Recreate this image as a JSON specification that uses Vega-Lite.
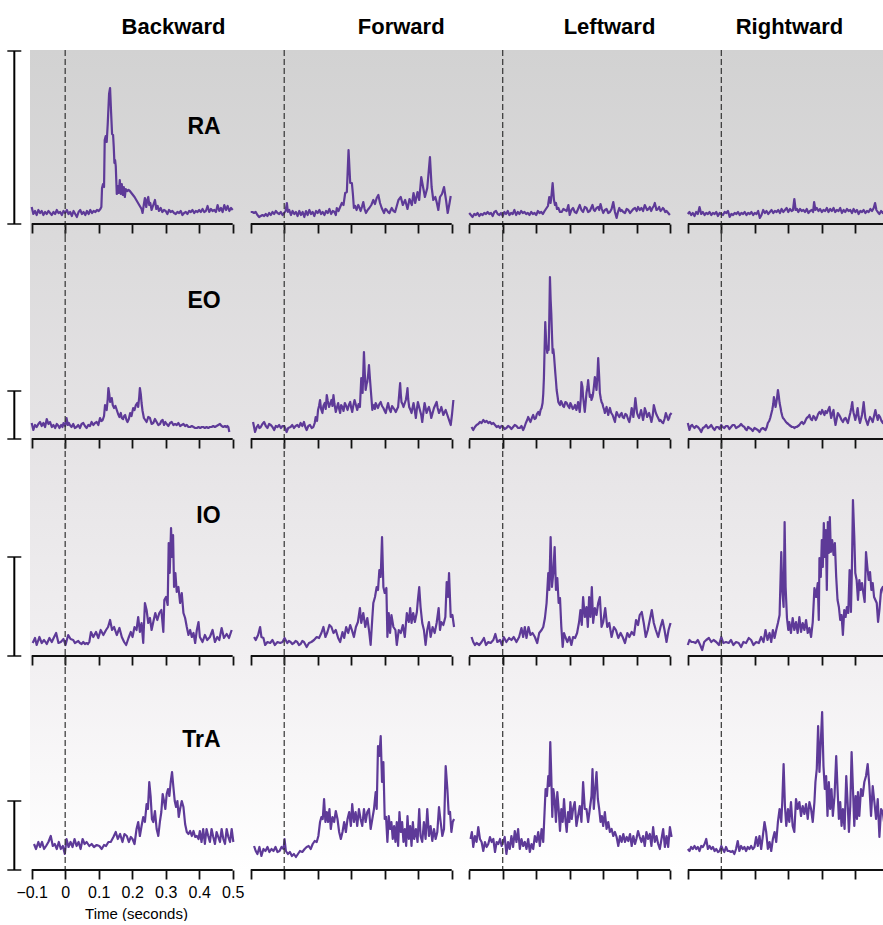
{
"$schema": "https://vega.github.io/schema/vega-lite/v6.json",
"padding": {"left": 0, "top": 16, "right": 0, "bottom": 0},
"background": "#ffffff",
"config": {
 "view": {"stroke": null},
 "font": "Liberation Sans",
 "title": {"fontSize": 22, "fontWeight": "bold", "font": "Liberation Sans", "color": "#000000", "anchor": "middle", "baseline": "alphabetic", "offset": 10},
 "axisX": {"domain": false, "grid": false, "labels": false, "ticks": true, "tickCount": 20, "tickSize": 9, "tickWidth": 1.8, "tickColor": "#111111", "offset": -12, "labelFontSize": 16, "labelColor": "#000000", "labelFont": "Liberation Sans", "labelPadding": 5, "labelOverlap": false, "titleFontSize": 15, "titleFontWeight": "normal", "titleColor": "#000000", "titleFont": "Liberation Sans", "titlePadding": 6},
 "line": {"color": "#5e3a98", "strokeWidth": 2.2, "clip": true, "strokeJoin": "round"},
 "text": {"fontSize": 23, "fontWeight": "bold", "align": "right", "baseline": "alphabetic", "color": "#000000", "font": "Liberation Sans"},
 "tick": {"thickness": 2, "size": 14, "color": "#000000"},
 "style": {"onset": {"color": "#333333", "strokeWidth": 1.2, "strokeDash": [6, 3]}, "base": {"color": "#111111", "strokeWidth": 2}, "bar": {"color": "#000000", "strokeWidth": 2}}
},
"datasets": {
"B_RA": [{"t":-100,"v":17},{"t":-95,"v":10},{"t":-90,"v":13},{"t":-85,"v":9},{"t":-80,"v":14},{"t":-75,"v":11},{"t":-70,"v":13},{"t":-65,"v":9},{"t":-60,"v":12},{"t":-55,"v":10},{"t":-50,"v":13},{"t":-45,"v":11},{"t":-40,"v":9},{"t":-35,"v":12},{"t":-30,"v":10},{"t":-25,"v":14},{"t":-20,"v":11},{"t":-15,"v":12},{"t":-10,"v":9},{"t":-5,"v":13},{"t":0,"v":11},{"t":5,"v":14},{"t":10,"v":10},{"t":15,"v":12},{"t":20,"v":8},{"t":25,"v":13},{"t":30,"v":10},{"t":35,"v":7},{"t":40,"v":12},{"t":45,"v":14},{"t":50,"v":10},{"t":55,"v":12},{"t":60,"v":9},{"t":65,"v":13},{"t":70,"v":10},{"t":75,"v":14},{"t":80,"v":11},{"t":85,"v":13},{"t":90,"v":12},{"t":95,"v":14},{"t":100,"v":13},{"t":105,"v":15},{"t":108,"v":17},{"t":110,"v":36},{"t":113,"v":40},{"t":116,"v":37},{"t":118,"v":84},{"t":121,"v":88},{"t":124,"v":82},{"t":127,"v":100},{"t":131,"v":130},{"t":134,"v":136},{"t":137,"v":112},{"t":140,"v":90},{"t":143,"v":89},{"t":145,"v":77},{"t":147,"v":61},{"t":149,"v":64},{"t":151,"v":58},{"t":154,"v":30},{"t":157,"v":38},{"t":160,"v":31},{"t":163,"v":44},{"t":166,"v":30},{"t":169,"v":40},{"t":172,"v":29},{"t":175,"v":37},{"t":178,"v":27},{"t":181,"v":35},{"t":185,"v":33},{"t":189,"v":34},{"t":193,"v":33},{"t":200,"v":30},{"t":207,"v":27},{"t":214,"v":23},{"t":221,"v":19},{"t":228,"v":15},{"t":231,"v":11},{"t":235,"v":20},{"t":238,"v":26},{"t":242,"v":17},{"t":245,"v":24},{"t":248,"v":27},{"t":251,"v":19},{"t":254,"v":21},{"t":258,"v":14},{"t":262,"v":18},{"t":268,"v":24},{"t":272,"v":15},{"t":276,"v":18},{"t":280,"v":13},{"t":285,"v":16},{"t":290,"v":12},{"t":295,"v":14},{"t":300,"v":13},{"t":305,"v":10},{"t":310,"v":14},{"t":315,"v":12},{"t":320,"v":13},{"t":325,"v":11},{"t":330,"v":10},{"t":335,"v":12},{"t":340,"v":11},{"t":345,"v":13},{"t":350,"v":9},{"t":355,"v":11},{"t":360,"v":12},{"t":365,"v":10},{"t":370,"v":13},{"t":375,"v":12},{"t":380,"v":14},{"t":385,"v":11},{"t":390,"v":13},{"t":395,"v":12},{"t":400,"v":14},{"t":405,"v":12},{"t":410,"v":15},{"t":415,"v":12},{"t":420,"v":13},{"t":425,"v":18},{"t":430,"v":12},{"t":435,"v":15},{"t":440,"v":13},{"t":445,"v":14},{"t":450,"v":12},{"t":455,"v":19},{"t":460,"v":13},{"t":465,"v":16},{"t":470,"v":12},{"t":475,"v":19},{"t":480,"v":14},{"t":485,"v":18},{"t":490,"v":13},{"t":495,"v":16},{"t":500,"v":14}],
"F_RA": [{"t":-100,"v":12},{"t":-95,"v":12},{"t":-90,"v":11},{"t":-85,"v":12},{"t":-80,"v":9},{"t":-75,"v":7},{"t":-70,"v":8},{"t":-65,"v":9},{"t":-60,"v":8},{"t":-55,"v":10},{"t":-50,"v":8},{"t":-45,"v":11},{"t":-40,"v":9},{"t":-35,"v":12},{"t":-30,"v":10},{"t":-25,"v":13},{"t":-20,"v":11},{"t":-15,"v":10},{"t":-10,"v":12},{"t":-5,"v":9},{"t":0,"v":11},{"t":4,"v":13},{"t":8,"v":21},{"t":11,"v":12},{"t":15,"v":14},{"t":20,"v":9},{"t":25,"v":13},{"t":30,"v":10},{"t":35,"v":12},{"t":40,"v":8},{"t":45,"v":13},{"t":50,"v":9},{"t":55,"v":12},{"t":60,"v":7},{"t":65,"v":13},{"t":70,"v":9},{"t":75,"v":14},{"t":80,"v":10},{"t":85,"v":12},{"t":90,"v":8},{"t":95,"v":13},{"t":100,"v":11},{"t":105,"v":14},{"t":110,"v":10},{"t":115,"v":12},{"t":120,"v":9},{"t":125,"v":13},{"t":130,"v":11},{"t":135,"v":15},{"t":140,"v":10},{"t":145,"v":13},{"t":150,"v":12},{"t":154,"v":9},{"t":157,"v":16},{"t":162,"v":13},{"t":167,"v":17},{"t":172,"v":21},{"t":177,"v":19},{"t":182,"v":31},{"t":187,"v":32},{"t":192,"v":74},{"t":197,"v":41},{"t":202,"v":41},{"t":205,"v":30},{"t":208,"v":16},{"t":212,"v":18},{"t":216,"v":14},{"t":221,"v":19},{"t":225,"v":16},{"t":228,"v":13},{"t":232,"v":17},{"t":236,"v":22},{"t":240,"v":15},{"t":244,"v":11},{"t":249,"v":14},{"t":254,"v":16},{"t":260,"v":19},{"t":266,"v":24},{"t":271,"v":20},{"t":276,"v":26},{"t":281,"v":29},{"t":286,"v":21},{"t":291,"v":16},{"t":298,"v":11},{"t":302,"v":15},{"t":306,"v":14},{"t":310,"v":12},{"t":314,"v":11},{"t":318,"v":14},{"t":321,"v":16},{"t":326,"v":13},{"t":331,"v":12},{"t":336,"v":18},{"t":341,"v":24},{"t":348,"v":27},{"t":354,"v":19},{"t":361,"v":24},{"t":368,"v":15},{"t":374,"v":25},{"t":381,"v":19},{"t":386,"v":31},{"t":391,"v":21},{"t":398,"v":32},{"t":403,"v":24},{"t":409,"v":47},{"t":415,"v":36},{"t":420,"v":27},{"t":427,"v":36},{"t":435,"v":67},{"t":440,"v":37},{"t":445,"v":24},{"t":451,"v":27},{"t":455,"v":22},{"t":460,"v":14},{"t":465,"v":27},{"t":471,"v":30},{"t":477,"v":37},{"t":483,"v":24},{"t":488,"v":11},{"t":493,"v":20},{"t":497,"v":28}],
"L_RA": [{"t":-100,"v":11},{"t":-95,"v":9},{"t":-90,"v":7},{"t":-85,"v":10},{"t":-80,"v":9},{"t":-75,"v":11},{"t":-70,"v":8},{"t":-65,"v":10},{"t":-60,"v":9},{"t":-55,"v":11},{"t":-50,"v":10},{"t":-45,"v":12},{"t":-40,"v":10},{"t":-35,"v":11},{"t":-30,"v":8},{"t":-25,"v":12},{"t":-20,"v":13},{"t":-15,"v":10},{"t":-10,"v":9},{"t":-5,"v":11},{"t":0,"v":8},{"t":5,"v":12},{"t":10,"v":10},{"t":15,"v":13},{"t":20,"v":9},{"t":25,"v":11},{"t":30,"v":10},{"t":35,"v":14},{"t":40,"v":9},{"t":45,"v":12},{"t":50,"v":10},{"t":55,"v":13},{"t":60,"v":11},{"t":65,"v":12},{"t":70,"v":10},{"t":75,"v":11},{"t":80,"v":9},{"t":85,"v":12},{"t":90,"v":10},{"t":95,"v":11},{"t":100,"v":9},{"t":105,"v":13},{"t":110,"v":11},{"t":115,"v":12},{"t":120,"v":10},{"t":125,"v":13},{"t":131,"v":16},{"t":135,"v":18},{"t":139,"v":27},{"t":143,"v":21},{"t":146,"v":30},{"t":149,"v":41},{"t":153,"v":24},{"t":156,"v":19},{"t":159,"v":21},{"t":162,"v":15},{"t":166,"v":16},{"t":171,"v":12},{"t":176,"v":12},{"t":181,"v":15},{"t":186,"v":14},{"t":191,"v":13},{"t":196,"v":19},{"t":200,"v":9},{"t":205,"v":14},{"t":210,"v":16},{"t":215,"v":12},{"t":220,"v":11},{"t":225,"v":15},{"t":230,"v":19},{"t":235,"v":14},{"t":240,"v":12},{"t":245,"v":17},{"t":250,"v":16},{"t":255,"v":12},{"t":260,"v":13},{"t":264,"v":16},{"t":268,"v":19},{"t":272,"v":14},{"t":275,"v":13},{"t":280,"v":16},{"t":285,"v":17},{"t":288,"v":14},{"t":292,"v":20},{"t":296,"v":15},{"t":300,"v":11},{"t":305,"v":14},{"t":310,"v":15},{"t":315,"v":11},{"t":320,"v":12},{"t":325,"v":15},{"t":330,"v":22},{"t":335,"v":12},{"t":340,"v":6},{"t":344,"v":12},{"t":348,"v":16},{"t":352,"v":13},{"t":355,"v":14},{"t":360,"v":12},{"t":365,"v":11},{"t":370,"v":15},{"t":375,"v":14},{"t":380,"v":11},{"t":385,"v":13},{"t":390,"v":15},{"t":395,"v":16},{"t":400,"v":13},{"t":404,"v":17},{"t":409,"v":14},{"t":414,"v":16},{"t":419,"v":13},{"t":424,"v":19},{"t":431,"v":14},{"t":435,"v":15},{"t":439,"v":17},{"t":443,"v":13},{"t":447,"v":16},{"t":451,"v":18},{"t":454,"v":21},{"t":459,"v":14},{"t":463,"v":15},{"t":467,"v":17},{"t":471,"v":13},{"t":474,"v":14},{"t":478,"v":16},{"t":481,"v":15},{"t":485,"v":12},{"t":489,"v":13},{"t":494,"v":11},{"t":499,"v":9}],
"R_RA": [{"t":-100,"v":10},{"t":-95,"v":12},{"t":-90,"v":9},{"t":-85,"v":11},{"t":-80,"v":8},{"t":-75,"v":12},{"t":-70,"v":10},{"t":-65,"v":17},{"t":-60,"v":10},{"t":-55,"v":12},{"t":-50,"v":9},{"t":-45,"v":11},{"t":-40,"v":10},{"t":-35,"v":12},{"t":-30,"v":9},{"t":-25,"v":11},{"t":-20,"v":10},{"t":-15,"v":12},{"t":-10,"v":8},{"t":-5,"v":11},{"t":0,"v":10},{"t":5,"v":9},{"t":10,"v":12},{"t":15,"v":11},{"t":20,"v":13},{"t":25,"v":7},{"t":30,"v":10},{"t":35,"v":9},{"t":40,"v":11},{"t":45,"v":10},{"t":50,"v":12},{"t":55,"v":9},{"t":60,"v":11},{"t":65,"v":10},{"t":70,"v":12},{"t":75,"v":9},{"t":80,"v":11},{"t":85,"v":10},{"t":90,"v":12},{"t":95,"v":9},{"t":100,"v":11},{"t":105,"v":10},{"t":110,"v":13},{"t":115,"v":6},{"t":120,"v":9},{"t":125,"v":14},{"t":130,"v":11},{"t":135,"v":13},{"t":140,"v":10},{"t":145,"v":12},{"t":150,"v":14},{"t":155,"v":11},{"t":160,"v":13},{"t":165,"v":12},{"t":170,"v":14},{"t":175,"v":11},{"t":180,"v":15},{"t":185,"v":12},{"t":190,"v":14},{"t":195,"v":16},{"t":200,"v":12},{"t":205,"v":15},{"t":210,"v":13},{"t":214,"v":14},{"t":218,"v":25},{"t":222,"v":14},{"t":226,"v":15},{"t":230,"v":12},{"t":235,"v":15},{"t":240,"v":13},{"t":245,"v":14},{"t":250,"v":12},{"t":255,"v":15},{"t":260,"v":11},{"t":265,"v":13},{"t":270,"v":14},{"t":274,"v":12},{"t":277,"v":22},{"t":281,"v":14},{"t":285,"v":16},{"t":290,"v":13},{"t":295,"v":15},{"t":300,"v":12},{"t":305,"v":14},{"t":310,"v":13},{"t":315,"v":16},{"t":320,"v":12},{"t":325,"v":15},{"t":330,"v":13},{"t":335,"v":16},{"t":340,"v":12},{"t":345,"v":14},{"t":350,"v":13},{"t":355,"v":16},{"t":360,"v":11},{"t":365,"v":14},{"t":370,"v":12},{"t":375,"v":15},{"t":380,"v":13},{"t":385,"v":14},{"t":390,"v":11},{"t":395,"v":15},{"t":400,"v":12},{"t":405,"v":14},{"t":410,"v":10},{"t":415,"v":13},{"t":420,"v":12},{"t":425,"v":14},{"t":430,"v":11},{"t":435,"v":13},{"t":440,"v":12},{"t":445,"v":15},{"t":450,"v":13},{"t":455,"v":16},{"t":459,"v":21},{"t":463,"v":14},{"t":467,"v":12},{"t":472,"v":10},{"t":477,"v":13},{"t":482,"v":11},{"t":487,"v":13},{"t":492,"v":10},{"t":497,"v":12},{"t":500,"v":11}],
"B_EO": [{"t":-100,"v":16},{"t":-95,"v":9},{"t":-90,"v":14},{"t":-85,"v":12},{"t":-80,"v":15},{"t":-75,"v":17},{"t":-70,"v":13},{"t":-65,"v":16},{"t":-60,"v":12},{"t":-55,"v":20},{"t":-50,"v":15},{"t":-45,"v":17},{"t":-40,"v":12},{"t":-35,"v":14},{"t":-30,"v":11},{"t":-25,"v":15},{"t":-20,"v":13},{"t":-17,"v":11},{"t":-12,"v":14},{"t":-8,"v":12},{"t":-5,"v":16},{"t":0,"v":13},{"t":4,"v":21},{"t":8,"v":14},{"t":11,"v":16},{"t":14,"v":14},{"t":19,"v":12},{"t":24,"v":15},{"t":29,"v":11},{"t":34,"v":12},{"t":39,"v":14},{"t":44,"v":11},{"t":49,"v":15},{"t":54,"v":16},{"t":59,"v":13},{"t":64,"v":11},{"t":69,"v":14},{"t":74,"v":13},{"t":79,"v":17},{"t":84,"v":14},{"t":89,"v":16},{"t":94,"v":17},{"t":99,"v":14},{"t":104,"v":21},{"t":108,"v":18},{"t":112,"v":19},{"t":116,"v":23},{"t":119,"v":34},{"t":122,"v":30},{"t":124,"v":29},{"t":127,"v":40},{"t":129,"v":51},{"t":132,"v":44},{"t":134,"v":37},{"t":137,"v":38},{"t":139,"v":41},{"t":142,"v":34},{"t":146,"v":31},{"t":150,"v":33},{"t":154,"v":29},{"t":158,"v":25},{"t":162,"v":22},{"t":166,"v":26},{"t":169,"v":21},{"t":173,"v":20},{"t":176,"v":23},{"t":179,"v":24},{"t":183,"v":19},{"t":186,"v":17},{"t":190,"v":20},{"t":194,"v":26},{"t":198,"v":23},{"t":203,"v":31},{"t":207,"v":29},{"t":211,"v":34},{"t":215,"v":36},{"t":218,"v":32},{"t":221,"v":42},{"t":223,"v":51},{"t":226,"v":44},{"t":228,"v":36},{"t":231,"v":28},{"t":235,"v":21},{"t":239,"v":19},{"t":243,"v":17},{"t":248,"v":22},{"t":253,"v":21},{"t":258,"v":15},{"t":263,"v":16},{"t":268,"v":20},{"t":273,"v":17},{"t":278,"v":14},{"t":283,"v":15},{"t":287,"v":18},{"t":291,"v":19},{"t":295,"v":14},{"t":299,"v":17},{"t":303,"v":15},{"t":308,"v":13},{"t":313,"v":16},{"t":318,"v":17},{"t":323,"v":14},{"t":328,"v":15},{"t":333,"v":14},{"t":338,"v":16},{"t":343,"v":13},{"t":348,"v":14},{"t":353,"v":15},{"t":358,"v":13},{"t":363,"v":14},{"t":368,"v":12},{"t":373,"v":12},{"t":378,"v":13},{"t":383,"v":12},{"t":388,"v":11},{"t":393,"v":11},{"t":398,"v":12},{"t":403,"v":11},{"t":408,"v":12},{"t":412,"v":12},{"t":417,"v":11},{"t":422,"v":12},{"t":427,"v":11},{"t":432,"v":12},{"t":437,"v":12},{"t":442,"v":13},{"t":447,"v":12},{"t":452,"v":13},{"t":457,"v":14},{"t":462,"v":15},{"t":467,"v":13},{"t":472,"v":12},{"t":477,"v":13},{"t":481,"v":12},{"t":484,"v":13},{"t":487,"v":12},{"t":490,"v":7}],
"F_EO": [{"t":-93,"v":17},{"t":-87,"v":7},{"t":-82,"v":12},{"t":-78,"v":14},{"t":-74,"v":11},{"t":-70,"v":12},{"t":-65,"v":15},{"t":-60,"v":17},{"t":-55,"v":13},{"t":-50,"v":11},{"t":-45,"v":15},{"t":-40,"v":14},{"t":-35,"v":12},{"t":-30,"v":9},{"t":-25,"v":13},{"t":-20,"v":12},{"t":-15,"v":14},{"t":-10,"v":11},{"t":-5,"v":13},{"t":0,"v":13},{"t":4,"v":10},{"t":7,"v":7},{"t":12,"v":11},{"t":19,"v":12},{"t":24,"v":14},{"t":29,"v":11},{"t":34,"v":13},{"t":39,"v":14},{"t":44,"v":12},{"t":49,"v":16},{"t":54,"v":13},{"t":59,"v":17},{"t":63,"v":12},{"t":67,"v":9},{"t":72,"v":13},{"t":77,"v":14},{"t":82,"v":11},{"t":87,"v":12},{"t":91,"v":16},{"t":94,"v":22},{"t":98,"v":18},{"t":101,"v":29},{"t":104,"v":33},{"t":107,"v":39},{"t":110,"v":30},{"t":114,"v":26},{"t":117,"v":33},{"t":121,"v":36},{"t":124,"v":30},{"t":127,"v":44},{"t":130,"v":38},{"t":134,"v":32},{"t":137,"v":35},{"t":141,"v":39},{"t":144,"v":33},{"t":147,"v":44},{"t":150,"v":35},{"t":154,"v":27},{"t":157,"v":31},{"t":161,"v":36},{"t":164,"v":30},{"t":167,"v":26},{"t":170,"v":34},{"t":174,"v":32},{"t":177,"v":28},{"t":181,"v":36},{"t":185,"v":33},{"t":189,"v":29},{"t":193,"v":34},{"t":197,"v":37},{"t":200,"v":31},{"t":203,"v":27},{"t":206,"v":33},{"t":210,"v":39},{"t":214,"v":34},{"t":218,"v":29},{"t":222,"v":35},{"t":226,"v":32},{"t":230,"v":61},{"t":234,"v":46},{"t":238,"v":87},{"t":241,"v":62},{"t":243,"v":49},{"t":246,"v":55},{"t":248,"v":57},{"t":251,"v":66},{"t":253,"v":74},{"t":256,"v":60},{"t":258,"v":51},{"t":261,"v":38},{"t":263,"v":29},{"t":266,"v":33},{"t":268,"v":34},{"t":271,"v":30},{"t":273,"v":36},{"t":277,"v":33},{"t":280,"v":31},{"t":284,"v":35},{"t":288,"v":37},{"t":292,"v":33},{"t":296,"v":31},{"t":300,"v":28},{"t":303,"v":26},{"t":307,"v":32},{"t":310,"v":36},{"t":314,"v":30},{"t":318,"v":27},{"t":322,"v":33},{"t":326,"v":31},{"t":330,"v":29},{"t":333,"v":27},{"t":337,"v":30},{"t":340,"v":32},{"t":343,"v":44},{"t":346,"v":56},{"t":348,"v":45},{"t":350,"v":37},{"t":353,"v":35},{"t":356,"v":32},{"t":360,"v":36},{"t":363,"v":39},{"t":366,"v":45},{"t":368,"v":51},{"t":370,"v":40},{"t":373,"v":32},{"t":377,"v":29},{"t":380,"v":26},{"t":383,"v":31},{"t":386,"v":36},{"t":390,"v":28},{"t":393,"v":21},{"t":396,"v":30},{"t":399,"v":37},{"t":402,"v":33},{"t":405,"v":29},{"t":409,"v":24},{"t":412,"v":17},{"t":416,"v":28},{"t":419,"v":36},{"t":422,"v":31},{"t":425,"v":26},{"t":429,"v":30},{"t":432,"v":32},{"t":436,"v":27},{"t":439,"v":21},{"t":443,"v":26},{"t":447,"v":31},{"t":451,"v":34},{"t":455,"v":37},{"t":458,"v":31},{"t":462,"v":26},{"t":466,"v":29},{"t":469,"v":32},{"t":472,"v":28},{"t":475,"v":24},{"t":479,"v":27},{"t":482,"v":29},{"t":486,"v":25},{"t":489,"v":22},{"t":493,"v":18},{"t":497,"v":14},{"t":501,"v":25},{"t":505,"v":39}],
"L_EO": [{"t":-93,"v":12},{"t":-88,"v":9},{"t":-83,"v":12},{"t":-78,"v":14},{"t":-73,"v":15},{"t":-68,"v":17},{"t":-63,"v":16},{"t":-58,"v":19},{"t":-53,"v":17},{"t":-48,"v":18},{"t":-43,"v":16},{"t":-38,"v":17},{"t":-33,"v":15},{"t":-28,"v":16},{"t":-23,"v":14},{"t":-18,"v":12},{"t":-13,"v":13},{"t":-8,"v":11},{"t":-4,"v":13},{"t":1,"v":12},{"t":6,"v":10},{"t":11,"v":11},{"t":16,"v":13},{"t":21,"v":12},{"t":26,"v":10},{"t":31,"v":12},{"t":36,"v":14},{"t":41,"v":13},{"t":46,"v":11},{"t":51,"v":11},{"t":56,"v":13},{"t":61,"v":9},{"t":65,"v":12},{"t":69,"v":16},{"t":73,"v":19},{"t":76,"v":22},{"t":80,"v":19},{"t":83,"v":17},{"t":87,"v":21},{"t":91,"v":24},{"t":95,"v":20},{"t":99,"v":21},{"t":102,"v":25},{"t":106,"v":27},{"t":110,"v":24},{"t":113,"v":29},{"t":116,"v":31},{"t":119,"v":36},{"t":121,"v":45},{"t":123,"v":61},{"t":125,"v":90},{"t":127,"v":117},{"t":130,"v":95},{"t":133,"v":86},{"t":135,"v":92},{"t":137,"v":89},{"t":139,"v":120},{"t":141,"v":162},{"t":143,"v":140},{"t":145,"v":126},{"t":147,"v":105},{"t":149,"v":86},{"t":151,"v":90},{"t":153,"v":84},{"t":155,"v":75},{"t":157,"v":66},{"t":159,"v":58},{"t":161,"v":49},{"t":164,"v":42},{"t":166,"v":37},{"t":169,"v":35},{"t":171,"v":34},{"t":174,"v":38},{"t":177,"v":36},{"t":180,"v":33},{"t":183,"v":32},{"t":187,"v":37},{"t":191,"v":36},{"t":195,"v":33},{"t":199,"v":31},{"t":202,"v":36},{"t":205,"v":34},{"t":209,"v":30},{"t":212,"v":31},{"t":216,"v":34},{"t":220,"v":29},{"t":223,"v":33},{"t":225,"v":37},{"t":228,"v":31},{"t":230,"v":27},{"t":233,"v":40},{"t":235,"v":57},{"t":238,"v":52},{"t":240,"v":42},{"t":243,"v":33},{"t":245,"v":27},{"t":248,"v":38},{"t":250,"v":46},{"t":253,"v":52},{"t":255,"v":59},{"t":258,"v":48},{"t":260,"v":42},{"t":263,"v":44},{"t":265,"v":39},{"t":268,"v":42},{"t":270,"v":46},{"t":273,"v":55},{"t":275,"v":62},{"t":278,"v":54},{"t":280,"v":49},{"t":283,"v":65},{"t":285,"v":81},{"t":288,"v":62},{"t":290,"v":46},{"t":293,"v":40},{"t":295,"v":37},{"t":298,"v":35},{"t":300,"v":32},{"t":303,"v":29},{"t":305,"v":26},{"t":308,"v":30},{"t":310,"v":32},{"t":313,"v":27},{"t":315,"v":24},{"t":318,"v":29},{"t":320,"v":31},{"t":324,"v":26},{"t":328,"v":24},{"t":332,"v":20},{"t":335,"v":17},{"t":338,"v":24},{"t":340,"v":27},{"t":344,"v":24},{"t":348,"v":22},{"t":352,"v":25},{"t":355,"v":26},{"t":358,"v":22},{"t":362,"v":21},{"t":366,"v":25},{"t":370,"v":24},{"t":374,"v":20},{"t":378,"v":17},{"t":382,"v":24},{"t":385,"v":31},{"t":388,"v":26},{"t":390,"v":22},{"t":393,"v":30},{"t":396,"v":41},{"t":399,"v":32},{"t":401,"v":26},{"t":404,"v":23},{"t":407,"v":21},{"t":410,"v":25},{"t":413,"v":29},{"t":416,"v":24},{"t":419,"v":19},{"t":422,"v":25},{"t":424,"v":31},{"t":428,"v":27},{"t":431,"v":22},{"t":434,"v":24},{"t":437,"v":26},{"t":441,"v":21},{"t":444,"v":17},{"t":448,"v":24},{"t":451,"v":34},{"t":454,"v":30},{"t":457,"v":26},{"t":461,"v":23},{"t":464,"v":21},{"t":468,"v":18},{"t":471,"v":19},{"t":475,"v":17},{"t":479,"v":16},{"t":483,"v":20},{"t":487,"v":26},{"t":491,"v":22},{"t":494,"v":19},{"t":497,"v":21},{"t":499,"v":24},{"t":504,"v":26}],
"R_EO": [{"t":-100,"v":16},{"t":-95,"v":9},{"t":-91,"v":13},{"t":-87,"v":14},{"t":-83,"v":12},{"t":-80,"v":11},{"t":-75,"v":13},{"t":-70,"v":12},{"t":-65,"v":10},{"t":-60,"v":7},{"t":-55,"v":11},{"t":-50,"v":12},{"t":-45,"v":14},{"t":-40,"v":11},{"t":-35,"v":12},{"t":-30,"v":14},{"t":-25,"v":11},{"t":-20,"v":9},{"t":-15,"v":12},{"t":-10,"v":12},{"t":-5,"v":10},{"t":0,"v":14},{"t":4,"v":12},{"t":9,"v":11},{"t":14,"v":13},{"t":19,"v":13},{"t":24,"v":10},{"t":29,"v":12},{"t":34,"v":14},{"t":39,"v":14},{"t":44,"v":11},{"t":49,"v":12},{"t":54,"v":13},{"t":59,"v":15},{"t":64,"v":13},{"t":69,"v":12},{"t":72,"v":10},{"t":76,"v":9},{"t":80,"v":12},{"t":84,"v":11},{"t":89,"v":10},{"t":94,"v":8},{"t":99,"v":11},{"t":104,"v":10},{"t":109,"v":9},{"t":114,"v":7},{"t":119,"v":10},{"t":124,"v":11},{"t":128,"v":10},{"t":132,"v":9},{"t":136,"v":12},{"t":139,"v":16},{"t":143,"v":18},{"t":146,"v":21},{"t":149,"v":25},{"t":152,"v":29},{"t":155,"v":35},{"t":157,"v":42},{"t":160,"v":36},{"t":162,"v":32},{"t":166,"v":40},{"t":169,"v":49},{"t":172,"v":42},{"t":174,"v":36},{"t":177,"v":31},{"t":179,"v":27},{"t":182,"v":23},{"t":184,"v":21},{"t":187,"v":20},{"t":189,"v":19},{"t":193,"v":17},{"t":196,"v":16},{"t":200,"v":15},{"t":203,"v":14},{"t":207,"v":13},{"t":211,"v":12},{"t":215,"v":12},{"t":218,"v":11},{"t":222,"v":12},{"t":225,"v":12},{"t":229,"v":13},{"t":233,"v":14},{"t":237,"v":16},{"t":241,"v":17},{"t":245,"v":15},{"t":248,"v":16},{"t":252,"v":19},{"t":255,"v":21},{"t":259,"v":22},{"t":263,"v":24},{"t":267,"v":20},{"t":271,"v":19},{"t":275,"v":23},{"t":278,"v":22},{"t":282,"v":19},{"t":285,"v":21},{"t":289,"v":25},{"t":293,"v":27},{"t":297,"v":25},{"t":301,"v":29},{"t":305,"v":26},{"t":308,"v":24},{"t":311,"v":28},{"t":315,"v":26},{"t":319,"v":29},{"t":323,"v":32},{"t":326,"v":25},{"t":328,"v":21},{"t":332,"v":26},{"t":335,"v":29},{"t":338,"v":20},{"t":341,"v":14},{"t":345,"v":21},{"t":348,"v":26},{"t":352,"v":24},{"t":355,"v":22},{"t":359,"v":19},{"t":363,"v":17},{"t":367,"v":20},{"t":371,"v":21},{"t":375,"v":18},{"t":378,"v":16},{"t":382,"v":22},{"t":385,"v":26},{"t":388,"v":31},{"t":391,"v":37},{"t":393,"v":30},{"t":395,"v":26},{"t":398,"v":22},{"t":400,"v":19},{"t":404,"v":25},{"t":407,"v":31},{"t":410,"v":22},{"t":414,"v":16},{"t":417,"v":20},{"t":420,"v":24},{"t":423,"v":31},{"t":425,"v":37},{"t":428,"v":27},{"t":430,"v":21},{"t":434,"v":17},{"t":437,"v":14},{"t":441,"v":19},{"t":444,"v":22},{"t":448,"v":20},{"t":452,"v":17},{"t":456,"v":23},{"t":460,"v":29},{"t":463,"v":24},{"t":467,"v":19},{"t":470,"v":24},{"t":474,"v":22},{"t":478,"v":18},{"t":482,"v":16},{"t":487,"v":20},{"t":492,"v":17},{"t":496,"v":21},{"t":500,"v":18}],
"B_IO": [{"t":-97,"v":13},{"t":-90,"v":18},{"t":-85,"v":11},{"t":-77,"v":19},{"t":-70,"v":13},{"t":-63,"v":16},{"t":-55,"v":12},{"t":-47,"v":18},{"t":-40,"v":14},{"t":-33,"v":19},{"t":-27,"v":23},{"t":-20,"v":13},{"t":-13,"v":14},{"t":-5,"v":17},{"t":1,"v":11},{"t":9,"v":21},{"t":16,"v":17},{"t":24,"v":16},{"t":29,"v":13},{"t":34,"v":14},{"t":39,"v":15},{"t":44,"v":13},{"t":49,"v":12},{"t":54,"v":14},{"t":59,"v":12},{"t":64,"v":13},{"t":68,"v":12},{"t":72,"v":14},{"t":77,"v":24},{"t":84,"v":19},{"t":92,"v":24},{"t":99,"v":18},{"t":106,"v":26},{"t":114,"v":21},{"t":122,"v":26},{"t":128,"v":29},{"t":134,"v":36},{"t":140,"v":26},{"t":146,"v":29},{"t":154,"v":21},{"t":162,"v":28},{"t":169,"v":19},{"t":176,"v":14},{"t":182,"v":11},{"t":189,"v":18},{"t":196,"v":24},{"t":201,"v":19},{"t":207,"v":29},{"t":213,"v":26},{"t":218,"v":39},{"t":223,"v":24},{"t":228,"v":33},{"t":233,"v":13},{"t":238,"v":53},{"t":243,"v":46},{"t":248,"v":33},{"t":253,"v":38},{"t":258,"v":26},{"t":263,"v":34},{"t":269,"v":43},{"t":275,"v":36},{"t":281,"v":43},{"t":287,"v":46},{"t":293,"v":24},{"t":296,"v":56},{"t":301,"v":59},{"t":306,"v":51},{"t":309,"v":113},{"t":312,"v":83},{"t":316,"v":128},{"t":319,"v":99},{"t":322,"v":121},{"t":325,"v":69},{"t":329,"v":83},{"t":333,"v":64},{"t":338,"v":69},{"t":343,"v":53},{"t":348,"v":63},{"t":353,"v":43},{"t":358,"v":38},{"t":363,"v":29},{"t":368,"v":21},{"t":373,"v":26},{"t":378,"v":19},{"t":383,"v":23},{"t":388,"v":13},{"t":393,"v":26},{"t":398,"v":34},{"t":402,"v":19},{"t":410,"v":14},{"t":417,"v":21},{"t":424,"v":16},{"t":432,"v":19},{"t":440,"v":26},{"t":447,"v":14},{"t":454,"v":19},{"t":460,"v":16},{"t":467,"v":28},{"t":474,"v":18},{"t":482,"v":22},{"t":489,"v":18},{"t":497,"v":26}],
"F_IO": [{"t":-90,"v":19},{"t":-85,"v":16},{"t":-78,"v":21},{"t":-72,"v":29},{"t":-68,"v":19},{"t":-62,"v":18},{"t":-57,"v":11},{"t":-50,"v":14},{"t":-42,"v":13},{"t":-35,"v":16},{"t":-28,"v":11},{"t":-20,"v":14},{"t":-12,"v":13},{"t":-5,"v":14},{"t":1,"v":18},{"t":9,"v":13},{"t":14,"v":15},{"t":19,"v":14},{"t":24,"v":12},{"t":29,"v":13},{"t":34,"v":15},{"t":39,"v":14},{"t":44,"v":11},{"t":49,"v":12},{"t":54,"v":15},{"t":59,"v":14},{"t":67,"v":9},{"t":74,"v":13},{"t":81,"v":14},{"t":89,"v":16},{"t":97,"v":19},{"t":104,"v":18},{"t":111,"v":23},{"t":117,"v":29},{"t":123,"v":19},{"t":129,"v":24},{"t":135,"v":31},{"t":141,"v":29},{"t":147,"v":23},{"t":154,"v":26},{"t":161,"v":18},{"t":167,"v":14},{"t":174,"v":24},{"t":179,"v":18},{"t":185,"v":29},{"t":191,"v":23},{"t":197,"v":31},{"t":202,"v":26},{"t":208,"v":19},{"t":214,"v":29},{"t":220,"v":34},{"t":226,"v":48},{"t":230,"v":33},{"t":236,"v":43},{"t":242,"v":29},{"t":248,"v":38},{"t":253,"v":26},{"t":258,"v":11},{"t":263,"v":38},{"t":266,"v":53},{"t":271,"v":59},{"t":276,"v":69},{"t":280,"v":66},{"t":284,"v":86},{"t":288,"v":79},{"t":292,"v":119},{"t":296,"v":69},{"t":300,"v":63},{"t":305,"v":68},{"t":308,"v":19},{"t":312,"v":43},{"t":316,"v":23},{"t":320,"v":41},{"t":326,"v":29},{"t":332,"v":26},{"t":336,"v":11},{"t":342,"v":26},{"t":348,"v":23},{"t":354,"v":31},{"t":360,"v":19},{"t":366,"v":43},{"t":372,"v":34},{"t":376,"v":48},{"t":380,"v":33},{"t":385,"v":43},{"t":390,"v":34},{"t":396,"v":44},{"t":399,"v":56},{"t":403,"v":69},{"t":407,"v":49},{"t":412,"v":33},{"t":417,"v":26},{"t":422,"v":11},{"t":427,"v":26},{"t":432,"v":34},{"t":437,"v":19},{"t":443,"v":29},{"t":449,"v":23},{"t":455,"v":33},{"t":461,"v":48},{"t":465,"v":26},{"t":469,"v":34},{"t":475,"v":31},{"t":481,"v":39},{"t":485,"v":74},{"t":489,"v":59},{"t":492,"v":83},{"t":497,"v":39},{"t":502,"v":41},{"t":507,"v":29}],
"L_IO": [{"t":-93,"v":19},{"t":-88,"v":14},{"t":-83,"v":11},{"t":-78,"v":13},{"t":-70,"v":11},{"t":-63,"v":14},{"t":-56,"v":18},{"t":-50,"v":11},{"t":-43,"v":14},{"t":-36,"v":13},{"t":-28,"v":16},{"t":-22,"v":22},{"t":-16,"v":14},{"t":-8,"v":16},{"t":-2,"v":11},{"t":3,"v":19},{"t":11,"v":14},{"t":19,"v":18},{"t":26,"v":16},{"t":33,"v":19},{"t":41,"v":14},{"t":49,"v":19},{"t":56,"v":28},{"t":61,"v":19},{"t":66,"v":29},{"t":71,"v":18},{"t":77,"v":29},{"t":83,"v":21},{"t":89,"v":23},{"t":96,"v":19},{"t":103,"v":13},{"t":109,"v":23},{"t":116,"v":26},{"t":121,"v":29},{"t":126,"v":38},{"t":131,"v":53},{"t":136,"v":83},{"t":139,"v":66},{"t":143,"v":119},{"t":147,"v":69},{"t":151,"v":83},{"t":155,"v":109},{"t":159,"v":66},{"t":163,"v":78},{"t":167,"v":53},{"t":171,"v":58},{"t":175,"v":29},{"t":179,"v":9},{"t":183,"v":23},{"t":187,"v":19},{"t":193,"v":14},{"t":199,"v":19},{"t":205,"v":11},{"t":210,"v":19},{"t":216,"v":18},{"t":222,"v":23},{"t":228,"v":34},{"t":232,"v":46},{"t":236,"v":31},{"t":240,"v":59},{"t":245,"v":39},{"t":250,"v":49},{"t":254,"v":29},{"t":258,"v":59},{"t":262,"v":39},{"t":266,"v":69},{"t":270,"v":33},{"t":275,"v":48},{"t":280,"v":41},{"t":285,"v":53},{"t":290,"v":59},{"t":295,"v":29},{"t":300,"v":34},{"t":306,"v":48},{"t":312,"v":29},{"t":318,"v":33},{"t":325,"v":19},{"t":332,"v":29},{"t":338,"v":26},{"t":345,"v":18},{"t":352,"v":23},{"t":358,"v":19},{"t":365,"v":13},{"t":372,"v":23},{"t":378,"v":19},{"t":385,"v":24},{"t":392,"v":21},{"t":398,"v":36},{"t":404,"v":31},{"t":409,"v":41},{"t":415,"v":44},{"t":421,"v":33},{"t":427,"v":19},{"t":433,"v":26},{"t":439,"v":36},{"t":445,"v":46},{"t":451,"v":33},{"t":457,"v":26},{"t":464,"v":19},{"t":471,"v":29},{"t":477,"v":36},{"t":483,"v":26},{"t":489,"v":14},{"t":495,"v":26},{"t":501,"v":33}],
"R_IO": [{"t":-100,"v":11},{"t":-95,"v":16},{"t":-89,"v":14},{"t":-83,"v":14},{"t":-77,"v":13},{"t":-70,"v":16},{"t":-63,"v":11},{"t":-57,"v":6},{"t":-51,"v":14},{"t":-45,"v":16},{"t":-37,"v":18},{"t":-30,"v":14},{"t":-23,"v":16},{"t":-15,"v":14},{"t":-7,"v":11},{"t":0,"v":19},{"t":6,"v":13},{"t":14,"v":14},{"t":22,"v":13},{"t":29,"v":16},{"t":36,"v":11},{"t":44,"v":14},{"t":52,"v":13},{"t":59,"v":9},{"t":66,"v":14},{"t":74,"v":13},{"t":82,"v":18},{"t":89,"v":16},{"t":96,"v":11},{"t":104,"v":14},{"t":112,"v":13},{"t":119,"v":19},{"t":126,"v":14},{"t":132,"v":26},{"t":138,"v":16},{"t":144,"v":23},{"t":149,"v":14},{"t":154,"v":26},{"t":159,"v":18},{"t":164,"v":26},{"t":169,"v":33},{"t":174,"v":41},{"t":179,"v":104},{"t":182,"v":66},{"t":186,"v":49},{"t":189,"v":134},{"t":192,"v":69},{"t":196,"v":38},{"t":200,"v":26},{"t":203,"v":34},{"t":208,"v":23},{"t":213,"v":38},{"t":218,"v":26},{"t":223,"v":34},{"t":228,"v":23},{"t":233,"v":39},{"t":238,"v":24},{"t":243,"v":33},{"t":248,"v":26},{"t":253,"v":36},{"t":258,"v":23},{"t":263,"v":28},{"t":268,"v":19},{"t":273,"v":34},{"t":278,"v":68},{"t":283,"v":59},{"t":288,"v":73},{"t":291,"v":36},{"t":293,"v":98},{"t":297,"v":79},{"t":300,"v":116},{"t":303,"v":89},{"t":306,"v":133},{"t":309,"v":99},{"t":312,"v":126},{"t":315,"v":66},{"t":318,"v":134},{"t":321,"v":103},{"t":324,"v":139},{"t":327,"v":104},{"t":331,"v":116},{"t":335,"v":101},{"t":339,"v":113},{"t":343,"v":79},{"t":347,"v":56},{"t":351,"v":49},{"t":355,"v":36},{"t":359,"v":41},{"t":363,"v":21},{"t":367,"v":46},{"t":371,"v":39},{"t":375,"v":49},{"t":379,"v":43},{"t":383,"v":86},{"t":387,"v":44},{"t":390,"v":89},{"t":393,"v":156},{"t":397,"v":119},{"t":400,"v":83},{"t":404,"v":76},{"t":408,"v":56},{"t":412,"v":76},{"t":416,"v":66},{"t":420,"v":73},{"t":424,"v":63},{"t":428,"v":54},{"t":432,"v":104},{"t":436,"v":89},{"t":440,"v":76},{"t":444,"v":84},{"t":448,"v":66},{"t":452,"v":73},{"t":456,"v":59},{"t":460,"v":56},{"t":464,"v":53},{"t":468,"v":34},{"t":472,"v":46},{"t":477,"v":66},{"t":482,"v":69},{"t":487,"v":60},{"t":492,"v":70},{"t":497,"v":55},{"t":500,"v":62}],
"B_TrA": [{"t":-93,"v":26},{"t":-87,"v":21},{"t":-80,"v":28},{"t":-75,"v":23},{"t":-69,"v":28},{"t":-63,"v":21},{"t":-57,"v":24},{"t":-50,"v":28},{"t":-43,"v":34},{"t":-37,"v":24},{"t":-31,"v":26},{"t":-25,"v":21},{"t":-19,"v":28},{"t":-13,"v":21},{"t":-7,"v":24},{"t":-1,"v":16},{"t":4,"v":31},{"t":10,"v":23},{"t":16,"v":28},{"t":22,"v":23},{"t":28,"v":31},{"t":34,"v":24},{"t":40,"v":28},{"t":46,"v":21},{"t":52,"v":31},{"t":58,"v":26},{"t":64,"v":28},{"t":72,"v":24},{"t":79,"v":26},{"t":86,"v":23},{"t":94,"v":25},{"t":102,"v":24},{"t":109,"v":21},{"t":116,"v":25},{"t":122,"v":24},{"t":129,"v":28},{"t":136,"v":28},{"t":144,"v":33},{"t":151,"v":38},{"t":157,"v":31},{"t":164,"v":36},{"t":171,"v":28},{"t":177,"v":36},{"t":184,"v":34},{"t":190,"v":28},{"t":196,"v":33},{"t":201,"v":31},{"t":207,"v":26},{"t":213,"v":41},{"t":218,"v":48},{"t":223,"v":34},{"t":228,"v":44},{"t":233,"v":53},{"t":238,"v":48},{"t":243,"v":66},{"t":247,"v":61},{"t":251,"v":88},{"t":255,"v":74},{"t":259,"v":51},{"t":263,"v":48},{"t":268,"v":59},{"t":273,"v":41},{"t":278,"v":34},{"t":283,"v":49},{"t":287,"v":58},{"t":291,"v":76},{"t":295,"v":69},{"t":299,"v":61},{"t":303,"v":76},{"t":307,"v":81},{"t":311,"v":74},{"t":315,"v":88},{"t":319,"v":98},{"t":323,"v":83},{"t":327,"v":69},{"t":331,"v":63},{"t":335,"v":69},{"t":339,"v":53},{"t":343,"v":61},{"t":348,"v":69},{"t":353,"v":63},{"t":358,"v":46},{"t":363,"v":38},{"t":368,"v":36},{"t":373,"v":39},{"t":378,"v":34},{"t":383,"v":39},{"t":388,"v":33},{"t":393,"v":34},{"t":398,"v":31},{"t":402,"v":39},{"t":407,"v":28},{"t":412,"v":41},{"t":417,"v":26},{"t":422,"v":41},{"t":427,"v":34},{"t":432,"v":28},{"t":437,"v":41},{"t":442,"v":33},{"t":447,"v":26},{"t":452,"v":38},{"t":457,"v":33},{"t":462,"v":28},{"t":467,"v":41},{"t":472,"v":31},{"t":477,"v":26},{"t":482,"v":41},{"t":487,"v":33},{"t":492,"v":28},{"t":497,"v":41},{"t":502,"v":28}],
"F_TrA": [{"t":-90,"v":24},{"t":-85,"v":19},{"t":-80,"v":16},{"t":-74,"v":23},{"t":-68,"v":14},{"t":-62,"v":21},{"t":-56,"v":19},{"t":-50,"v":23},{"t":-44,"v":18},{"t":-38,"v":21},{"t":-32,"v":19},{"t":-26,"v":23},{"t":-20,"v":18},{"t":-14,"v":19},{"t":-8,"v":23},{"t":-2,"v":21},{"t":1,"v":31},{"t":5,"v":19},{"t":11,"v":16},{"t":17,"v":18},{"t":23,"v":14},{"t":29,"v":16},{"t":35,"v":13},{"t":41,"v":16},{"t":47,"v":19},{"t":54,"v":18},{"t":61,"v":21},{"t":67,"v":23},{"t":73,"v":24},{"t":79,"v":21},{"t":85,"v":26},{"t":91,"v":29},{"t":97,"v":28},{"t":102,"v":34},{"t":107,"v":48},{"t":111,"v":53},{"t":115,"v":51},{"t":119,"v":71},{"t":123,"v":48},{"t":127,"v":58},{"t":131,"v":48},{"t":135,"v":61},{"t":139,"v":41},{"t":144,"v":53},{"t":149,"v":48},{"t":154,"v":59},{"t":159,"v":51},{"t":164,"v":38},{"t":169,"v":31},{"t":174,"v":38},{"t":179,"v":48},{"t":184,"v":38},{"t":189,"v":51},{"t":194,"v":58},{"t":199,"v":44},{"t":203,"v":66},{"t":208,"v":48},{"t":213,"v":58},{"t":218,"v":44},{"t":223,"v":61},{"t":228,"v":51},{"t":233,"v":44},{"t":238,"v":61},{"t":243,"v":48},{"t":248,"v":58},{"t":253,"v":61},{"t":258,"v":41},{"t":263,"v":51},{"t":268,"v":61},{"t":273,"v":78},{"t":276,"v":61},{"t":280,"v":124},{"t":284,"v":114},{"t":288,"v":134},{"t":292,"v":88},{"t":296,"v":108},{"t":300,"v":51},{"t":304,"v":53},{"t":308,"v":28},{"t":312,"v":54},{"t":316,"v":41},{"t":320,"v":48},{"t":324,"v":31},{"t":328,"v":44},{"t":332,"v":28},{"t":336,"v":48},{"t":340,"v":24},{"t":344,"v":58},{"t":348,"v":38},{"t":352,"v":48},{"t":356,"v":28},{"t":360,"v":41},{"t":364,"v":24},{"t":368,"v":54},{"t":372,"v":31},{"t":376,"v":44},{"t":380,"v":24},{"t":384,"v":48},{"t":388,"v":31},{"t":393,"v":41},{"t":398,"v":28},{"t":403,"v":61},{"t":407,"v":34},{"t":412,"v":28},{"t":417,"v":48},{"t":422,"v":31},{"t":427,"v":61},{"t":432,"v":34},{"t":437,"v":44},{"t":442,"v":29},{"t":447,"v":41},{"t":452,"v":31},{"t":457,"v":38},{"t":462,"v":63},{"t":467,"v":48},{"t":472,"v":34},{"t":477,"v":41},{"t":482,"v":104},{"t":487,"v":81},{"t":491,"v":56},{"t":495,"v":58},{"t":499,"v":38},{"t":503,"v":48},{"t":507,"v":51}],
"L_TrA": [{"t":-96,"v":31},{"t":-92,"v":38},{"t":-88,"v":23},{"t":-83,"v":34},{"t":-78,"v":28},{"t":-73,"v":43},{"t":-68,"v":31},{"t":-63,"v":28},{"t":-58,"v":19},{"t":-53,"v":28},{"t":-48,"v":23},{"t":-43,"v":26},{"t":-38,"v":33},{"t":-33,"v":28},{"t":-28,"v":31},{"t":-23,"v":18},{"t":-18,"v":28},{"t":-13,"v":26},{"t":-8,"v":31},{"t":-3,"v":24},{"t":1,"v":28},{"t":6,"v":33},{"t":11,"v":16},{"t":16,"v":28},{"t":21,"v":21},{"t":26,"v":34},{"t":31,"v":23},{"t":36,"v":39},{"t":41,"v":28},{"t":46,"v":41},{"t":51,"v":21},{"t":56,"v":31},{"t":61,"v":24},{"t":66,"v":28},{"t":71,"v":21},{"t":76,"v":31},{"t":81,"v":18},{"t":86,"v":26},{"t":91,"v":21},{"t":96,"v":34},{"t":101,"v":28},{"t":106,"v":38},{"t":111,"v":24},{"t":116,"v":41},{"t":121,"v":28},{"t":124,"v":51},{"t":128,"v":81},{"t":132,"v":74},{"t":136,"v":94},{"t":139,"v":84},{"t":142,"v":128},{"t":145,"v":94},{"t":148,"v":53},{"t":151,"v":81},{"t":155,"v":71},{"t":159,"v":48},{"t":163,"v":78},{"t":167,"v":61},{"t":171,"v":39},{"t":175,"v":61},{"t":179,"v":48},{"t":183,"v":71},{"t":187,"v":51},{"t":191,"v":38},{"t":195,"v":58},{"t":199,"v":48},{"t":202,"v":68},{"t":206,"v":51},{"t":210,"v":61},{"t":215,"v":68},{"t":220,"v":44},{"t":225,"v":54},{"t":230,"v":64},{"t":235,"v":48},{"t":240,"v":88},{"t":245,"v":61},{"t":250,"v":61},{"t":255,"v":48},{"t":260,"v":61},{"t":265,"v":74},{"t":268,"v":101},{"t":272,"v":61},{"t":276,"v":81},{"t":280,"v":98},{"t":284,"v":71},{"t":288,"v":61},{"t":292,"v":48},{"t":296,"v":54},{"t":300,"v":44},{"t":305,"v":58},{"t":310,"v":41},{"t":315,"v":48},{"t":320,"v":38},{"t":325,"v":41},{"t":330,"v":34},{"t":335,"v":38},{"t":340,"v":33},{"t":345,"v":24},{"t":350,"v":34},{"t":355,"v":28},{"t":360,"v":36},{"t":365,"v":28},{"t":370,"v":33},{"t":375,"v":29},{"t":380,"v":36},{"t":385,"v":24},{"t":390,"v":34},{"t":395,"v":26},{"t":399,"v":31},{"t":404,"v":39},{"t":409,"v":33},{"t":414,"v":28},{"t":419,"v":34},{"t":424,"v":24},{"t":429,"v":38},{"t":434,"v":31},{"t":439,"v":36},{"t":444,"v":24},{"t":449,"v":43},{"t":454,"v":28},{"t":459,"v":34},{"t":464,"v":26},{"t":469,"v":21},{"t":474,"v":31},{"t":479,"v":41},{"t":484,"v":23},{"t":489,"v":34},{"t":494,"v":23},{"t":499,"v":43},{"t":504,"v":33}],
"R_TrA": [{"t":-100,"v":21},{"t":-95,"v":19},{"t":-90,"v":23},{"t":-85,"v":21},{"t":-80,"v":24},{"t":-75,"v":21},{"t":-70,"v":23},{"t":-65,"v":19},{"t":-60,"v":24},{"t":-55,"v":23},{"t":-50,"v":26},{"t":-45,"v":31},{"t":-40,"v":21},{"t":-35,"v":24},{"t":-30,"v":21},{"t":-25,"v":23},{"t":-20,"v":19},{"t":-15,"v":21},{"t":-10,"v":18},{"t":-5,"v":19},{"t":0,"v":24},{"t":4,"v":21},{"t":9,"v":18},{"t":14,"v":23},{"t":19,"v":19},{"t":24,"v":19},{"t":29,"v":18},{"t":34,"v":19},{"t":39,"v":16},{"t":44,"v":21},{"t":49,"v":29},{"t":54,"v":19},{"t":59,"v":24},{"t":64,"v":21},{"t":69,"v":23},{"t":74,"v":19},{"t":79,"v":23},{"t":84,"v":21},{"t":89,"v":24},{"t":94,"v":21},{"t":99,"v":23},{"t":104,"v":33},{"t":109,"v":24},{"t":114,"v":34},{"t":119,"v":21},{"t":124,"v":34},{"t":129,"v":48},{"t":134,"v":38},{"t":139,"v":21},{"t":144,"v":28},{"t":149,"v":19},{"t":154,"v":31},{"t":159,"v":38},{"t":164,"v":28},{"t":169,"v":48},{"t":174,"v":61},{"t":179,"v":48},{"t":182,"v":68},{"t":186,"v":106},{"t":190,"v":64},{"t":194,"v":44},{"t":199,"v":61},{"t":203,"v":48},{"t":208,"v":68},{"t":213,"v":44},{"t":218,"v":38},{"t":223,"v":71},{"t":228,"v":61},{"t":233,"v":68},{"t":238,"v":54},{"t":243,"v":64},{"t":248,"v":56},{"t":253,"v":66},{"t":258,"v":51},{"t":263,"v":68},{"t":268,"v":61},{"t":273,"v":48},{"t":278,"v":68},{"t":281,"v":88},{"t":285,"v":101},{"t":289,"v":144},{"t":293,"v":98},{"t":297,"v":128},{"t":301,"v":158},{"t":305,"v":104},{"t":309,"v":81},{"t":313,"v":94},{"t":317,"v":54},{"t":321,"v":88},{"t":325,"v":61},{"t":329,"v":81},{"t":333,"v":54},{"t":338,"v":74},{"t":343,"v":114},{"t":347,"v":81},{"t":351,"v":51},{"t":355,"v":68},{"t":359,"v":44},{"t":363,"v":61},{"t":368,"v":41},{"t":373,"v":94},{"t":377,"v":68},{"t":381,"v":38},{"t":385,"v":64},{"t":389,"v":118},{"t":393,"v":81},{"t":397,"v":44},{"t":401,"v":74},{"t":405,"v":51},{"t":408,"v":78},{"t":412,"v":54},{"t":417,"v":81},{"t":422,"v":74},{"t":427,"v":88},{"t":432,"v":94},{"t":437,"v":106},{"t":442,"v":84},{"t":447,"v":54},{"t":452,"v":84},{"t":457,"v":68},{"t":462,"v":51},{"t":467,"v":71},{"t":472,"v":33},{"t":477,"v":61},{"t":482,"v":58},{"t":487,"v":45},{"t":492,"v":60},{"t":497,"v":50},{"t":500,"v":55}]
},
"columns": 5,
"spacing": 0,
"bounds": "flush",
"align": "each",
"resolve": {"scale": {"x": "independent", "y": "independent"}},
"concat": [
{"width": 30, "height": 186, "data": {"values": [{"lo": 0, "hi": 173}]}, "layer": [
 {"mark": {"type": "rule", "style": "bar"}, "encoding": {"x": {"datum": 0.477, "scale": {"domain": [0, 1]}, "axis": null}, "y": {"field": "lo", "type": "quantitative", "scale": {"domain": [-12, 174], "nice": false, "zero": false}, "axis": null}, "y2": {"field": "hi"}}},
 {"mark": {"type": "tick", "orient": "horizontal"}, "encoding": {"x": {"datum": 0.477, "axis": null}, "y": {"field": "lo", "type": "quantitative", "axis": null}}},
 {"mark": {"type": "tick", "orient": "horizontal"}, "encoding": {"x": {"datum": 0.477, "axis": null}, "y": {"field": "hi", "type": "quantitative", "axis": null}}}
]},
{"width": 212, "height": 186, "title": {"text": "Backward", "dx": 37.5},
 "view": {"fill": {"gradient": "linear", "x1": 0, "y1": 0, "x2": 0, "y2": 1, "stops": [{"offset": 0, "color": "#d2d2d2"}, {"offset": 1, "color": "#dbdadb"}]}, "stroke": null},
 "layer": [
 {"data": {"name": "B_RA"}, "mark": "line", "encoding": {"x": {"field": "t", "type": "quantitative", "scale": {"domain": [-105, 527.8], "nice": false, "zero": false}, "axis": {"values": [-100, 0, 100, 200, 300, 400, 500], "title": null}}, "y": {"field": "v", "type": "quantitative", "scale": {"domain": [-12, 174], "nice": false, "zero": false}, "axis": null}}},
 {"data": {"values": [{"t": 0}]}, "mark": {"type": "rule", "style": "onset"}, "encoding": {"x": {"field": "t", "type": "quantitative"}}},
 {"data": {"values": [{"start": -100, "end": 500}]}, "mark": {"type": "rule", "style": "base", "clip": true}, "encoding": {"x": {"field": "start", "type": "quantitative"}, "x2": {"field": "end"}, "y": {"datum": 0, "axis": null}}},
 {"data": {"values": [{"label": "RA"}]}, "mark": "text", "encoding": {"x": {"datum": 464}, "y": {"datum": 90, "axis": null}, "text": {"field": "label"}}}
]},
{"width": 219, "height": 186, "title": {"text": "Forward", "dx": 49.7},
 "view": {"fill": {"gradient": "linear", "x1": 0, "y1": 0, "x2": 0, "y2": 1, "stops": [{"offset": 0, "color": "#d2d2d2"}, {"offset": 1, "color": "#dbdadb"}]}, "stroke": null},
 "layer": [
 {"data": {"name": "F_RA"}, "mark": "line", "encoding": {"x": {"field": "t", "type": "quantitative", "scale": {"domain": [-126, 527.7], "nice": false, "zero": false}, "axis": {"values": [-100, 0, 100, 200, 300, 400, 500], "title": null}}, "y": {"field": "v", "type": "quantitative", "scale": {"domain": [-12, 174], "nice": false, "zero": false}, "axis": null}}},
 {"data": {"values": [{"t": 0}]}, "mark": {"type": "rule", "style": "onset"}, "encoding": {"x": {"field": "t", "type": "quantitative"}}},
 {"data": {"values": [{"start": -100, "end": 500}]}, "mark": {"type": "rule", "style": "base", "clip": true}, "encoding": {"x": {"field": "start", "type": "quantitative"}, "x2": {"field": "end"}, "y": {"datum": 0, "axis": null}}}
]},
{"width": 219, "height": 186, "title": {"text": "Leftward", "dx": 39},
 "view": {"fill": {"gradient": "linear", "x1": 0, "y1": 0, "x2": 0, "y2": 1, "stops": [{"offset": 0, "color": "#d2d2d2"}, {"offset": 1, "color": "#dbdadb"}]}, "stroke": null},
 "layer": [
 {"data": {"name": "L_RA"}, "mark": "line", "encoding": {"x": {"field": "t", "type": "quantitative", "scale": {"domain": [-124.5, 529.2], "nice": false, "zero": false}, "axis": {"values": [-100, 0, 100, 200, 300, 400, 500], "title": null}}, "y": {"field": "v", "type": "quantitative", "scale": {"domain": [-12, 174], "nice": false, "zero": false}, "axis": null}}},
 {"data": {"values": [{"t": 0}]}, "mark": {"type": "rule", "style": "onset"}, "encoding": {"x": {"field": "t", "type": "quantitative"}}},
 {"data": {"values": [{"start": -100, "end": 500}]}, "mark": {"type": "rule", "style": "base", "clip": true}, "encoding": {"x": {"field": "start", "type": "quantitative"}, "x2": {"field": "end"}, "y": {"datum": 0, "axis": null}}}
]},
{"width": 203, "height": 186, "title": {"text": "Rightward", "dx": 8},
 "view": {"fill": {"gradient": "linear", "x1": 0, "y1": 0, "x2": 0, "y2": 1, "stops": [{"offset": 0, "color": "#d2d2d2"}, {"offset": 1, "color": "#dbdadb"}]}, "stroke": null},
 "layer": [
 {"data": {"name": "R_RA"}, "mark": "line", "encoding": {"x": {"field": "t", "type": "quantitative", "scale": {"domain": [-123.3, 482.7], "nice": false, "zero": false}, "axis": {"values": [-100, 0, 100, 200, 300, 400], "title": null}}, "y": {"field": "v", "type": "quantitative", "scale": {"domain": [-12, 174], "nice": false, "zero": false}, "axis": null}}},
 {"data": {"values": [{"t": 0}]}, "mark": {"type": "rule", "style": "onset"}, "encoding": {"x": {"field": "t", "type": "quantitative"}}},
 {"data": {"values": [{"start": -100, "end": 500}]}, "mark": {"type": "rule", "style": "base", "clip": true}, "encoding": {"x": {"field": "start", "type": "quantitative"}, "x2": {"field": "end"}, "y": {"datum": 0, "axis": null}}}
]},

{"width": 30, "height": 215, "data": {"values": [{"lo": 0, "hi": 48}]}, "layer": [
 {"mark": {"type": "rule", "style": "bar"}, "encoding": {"x": {"datum": 0.477, "scale": {"domain": [0, 1]}, "axis": null}, "y": {"field": "lo", "type": "quantitative", "scale": {"domain": [-12, 203], "nice": false, "zero": false}, "axis": null}, "y2": {"field": "hi"}}},
 {"mark": {"type": "tick", "orient": "horizontal"}, "encoding": {"x": {"datum": 0.477, "axis": null}, "y": {"field": "lo", "type": "quantitative", "axis": null}}},
 {"mark": {"type": "tick", "orient": "horizontal"}, "encoding": {"x": {"datum": 0.477, "axis": null}, "y": {"field": "hi", "type": "quantitative", "axis": null}}}
]},
{"width": 212, "height": 215,
 "view": {"fill": {"gradient": "linear", "x1": 0, "y1": 0, "x2": 0, "y2": 1, "stops": [{"offset": 0, "color": "#dbdadb"}, {"offset": 1, "color": "#e6e4e6"}]}, "stroke": null},
 "layer": [
 {"data": {"name": "B_EO"}, "mark": "line", "encoding": {"x": {"field": "t", "type": "quantitative", "scale": {"domain": [-105, 527.8], "nice": false, "zero": false}, "axis": {"values": [-100, 0, 100, 200, 300, 400, 500], "title": null}}, "y": {"field": "v", "type": "quantitative", "scale": {"domain": [-12, 203], "nice": false, "zero": false}, "axis": null}}},
 {"data": {"values": [{"t": 0}]}, "mark": {"type": "rule", "style": "onset"}, "encoding": {"x": {"field": "t", "type": "quantitative"}}},
 {"data": {"values": [{"start": -100, "end": 500}]}, "mark": {"type": "rule", "style": "base", "clip": true}, "encoding": {"x": {"field": "start", "type": "quantitative"}, "x2": {"field": "end"}, "y": {"datum": 0, "axis": null}}},
 {"data": {"values": [{"label": "EO"}]}, "mark": "text", "encoding": {"x": {"datum": 464}, "y": {"datum": 131, "axis": null}, "text": {"field": "label"}}}
]},
{"width": 219, "height": 215,
 "view": {"fill": {"gradient": "linear", "x1": 0, "y1": 0, "x2": 0, "y2": 1, "stops": [{"offset": 0, "color": "#dbdadb"}, {"offset": 1, "color": "#e6e4e6"}]}, "stroke": null},
 "layer": [
 {"data": {"name": "F_EO"}, "mark": "line", "encoding": {"x": {"field": "t", "type": "quantitative", "scale": {"domain": [-126, 527.7], "nice": false, "zero": false}, "axis": {"values": [-100, 0, 100, 200, 300, 400, 500], "title": null}}, "y": {"field": "v", "type": "quantitative", "scale": {"domain": [-12, 203], "nice": false, "zero": false}, "axis": null}}},
 {"data": {"values": [{"t": 0}]}, "mark": {"type": "rule", "style": "onset"}, "encoding": {"x": {"field": "t", "type": "quantitative"}}},
 {"data": {"values": [{"start": -100, "end": 500}]}, "mark": {"type": "rule", "style": "base", "clip": true}, "encoding": {"x": {"field": "start", "type": "quantitative"}, "x2": {"field": "end"}, "y": {"datum": 0, "axis": null}}}
]},
{"width": 219, "height": 215,
 "view": {"fill": {"gradient": "linear", "x1": 0, "y1": 0, "x2": 0, "y2": 1, "stops": [{"offset": 0, "color": "#dbdadb"}, {"offset": 1, "color": "#e6e4e6"}]}, "stroke": null},
 "layer": [
 {"data": {"name": "L_EO"}, "mark": "line", "encoding": {"x": {"field": "t", "type": "quantitative", "scale": {"domain": [-124.5, 529.2], "nice": false, "zero": false}, "axis": {"values": [-100, 0, 100, 200, 300, 400, 500], "title": null}}, "y": {"field": "v", "type": "quantitative", "scale": {"domain": [-12, 203], "nice": false, "zero": false}, "axis": null}}},
 {"data": {"values": [{"t": 0}]}, "mark": {"type": "rule", "style": "onset"}, "encoding": {"x": {"field": "t", "type": "quantitative"}}},
 {"data": {"values": [{"start": -100, "end": 500}]}, "mark": {"type": "rule", "style": "base", "clip": true}, "encoding": {"x": {"field": "start", "type": "quantitative"}, "x2": {"field": "end"}, "y": {"datum": 0, "axis": null}}}
]},
{"width": 203, "height": 215,
 "view": {"fill": {"gradient": "linear", "x1": 0, "y1": 0, "x2": 0, "y2": 1, "stops": [{"offset": 0, "color": "#dbdadb"}, {"offset": 1, "color": "#e6e4e6"}]}, "stroke": null},
 "layer": [
 {"data": {"name": "R_EO"}, "mark": "line", "encoding": {"x": {"field": "t", "type": "quantitative", "scale": {"domain": [-123.3, 482.7], "nice": false, "zero": false}, "axis": {"values": [-100, 0, 100, 200, 300, 400], "title": null}}, "y": {"field": "v", "type": "quantitative", "scale": {"domain": [-12, 203], "nice": false, "zero": false}, "axis": null}}},
 {"data": {"values": [{"t": 0}]}, "mark": {"type": "rule", "style": "onset"}, "encoding": {"x": {"field": "t", "type": "quantitative"}}},
 {"data": {"values": [{"start": -100, "end": 500}]}, "mark": {"type": "rule", "style": "base", "clip": true}, "encoding": {"x": {"field": "start", "type": "quantitative"}, "x2": {"field": "end"}, "y": {"datum": 0, "axis": null}}}
]},

{"width": 30, "height": 217, "data": {"values": [{"lo": 0, "hi": 99}]}, "layer": [
 {"mark": {"type": "rule", "style": "bar"}, "encoding": {"x": {"datum": 0.477, "scale": {"domain": [0, 1]}, "axis": null}, "y": {"field": "lo", "type": "quantitative", "scale": {"domain": [-12, 205], "nice": false, "zero": false}, "axis": null}, "y2": {"field": "hi"}}},
 {"mark": {"type": "tick", "orient": "horizontal"}, "encoding": {"x": {"datum": 0.477, "axis": null}, "y": {"field": "lo", "type": "quantitative", "axis": null}}},
 {"mark": {"type": "tick", "orient": "horizontal"}, "encoding": {"x": {"datum": 0.477, "axis": null}, "y": {"field": "hi", "type": "quantitative", "axis": null}}}
]},
{"width": 212, "height": 217,
 "view": {"fill": {"gradient": "linear", "x1": 0, "y1": 0, "x2": 0, "y2": 1, "stops": [{"offset": 0, "color": "#e6e4e6"}, {"offset": 1, "color": "#f2f0f2"}]}, "stroke": null},
 "layer": [
 {"data": {"name": "B_IO"}, "mark": "line", "encoding": {"x": {"field": "t", "type": "quantitative", "scale": {"domain": [-105, 527.8], "nice": false, "zero": false}, "axis": {"values": [-100, 0, 100, 200, 300, 400, 500], "title": null}}, "y": {"field": "v", "type": "quantitative", "scale": {"domain": [-12, 205], "nice": false, "zero": false}, "axis": null}}},
 {"data": {"values": [{"t": 0}]}, "mark": {"type": "rule", "style": "onset"}, "encoding": {"x": {"field": "t", "type": "quantitative"}}},
 {"data": {"values": [{"start": -100, "end": 500}]}, "mark": {"type": "rule", "style": "base", "clip": true}, "encoding": {"x": {"field": "start", "type": "quantitative"}, "x2": {"field": "end"}, "y": {"datum": 0, "axis": null}}},
 {"data": {"values": [{"label": "IO"}]}, "mark": "text", "encoding": {"x": {"datum": 464}, "y": {"datum": 133, "axis": null}, "text": {"field": "label"}}}
]},
{"width": 219, "height": 217,
 "view": {"fill": {"gradient": "linear", "x1": 0, "y1": 0, "x2": 0, "y2": 1, "stops": [{"offset": 0, "color": "#e6e4e6"}, {"offset": 1, "color": "#f2f0f2"}]}, "stroke": null},
 "layer": [
 {"data": {"name": "F_IO"}, "mark": "line", "encoding": {"x": {"field": "t", "type": "quantitative", "scale": {"domain": [-126, 527.7], "nice": false, "zero": false}, "axis": {"values": [-100, 0, 100, 200, 300, 400, 500], "title": null}}, "y": {"field": "v", "type": "quantitative", "scale": {"domain": [-12, 205], "nice": false, "zero": false}, "axis": null}}},
 {"data": {"values": [{"t": 0}]}, "mark": {"type": "rule", "style": "onset"}, "encoding": {"x": {"field": "t", "type": "quantitative"}}},
 {"data": {"values": [{"start": -100, "end": 500}]}, "mark": {"type": "rule", "style": "base", "clip": true}, "encoding": {"x": {"field": "start", "type": "quantitative"}, "x2": {"field": "end"}, "y": {"datum": 0, "axis": null}}}
]},
{"width": 219, "height": 217,
 "view": {"fill": {"gradient": "linear", "x1": 0, "y1": 0, "x2": 0, "y2": 1, "stops": [{"offset": 0, "color": "#e6e4e6"}, {"offset": 1, "color": "#f2f0f2"}]}, "stroke": null},
 "layer": [
 {"data": {"name": "L_IO"}, "mark": "line", "encoding": {"x": {"field": "t", "type": "quantitative", "scale": {"domain": [-124.5, 529.2], "nice": false, "zero": false}, "axis": {"values": [-100, 0, 100, 200, 300, 400, 500], "title": null}}, "y": {"field": "v", "type": "quantitative", "scale": {"domain": [-12, 205], "nice": false, "zero": false}, "axis": null}}},
 {"data": {"values": [{"t": 0}]}, "mark": {"type": "rule", "style": "onset"}, "encoding": {"x": {"field": "t", "type": "quantitative"}}},
 {"data": {"values": [{"start": -100, "end": 500}]}, "mark": {"type": "rule", "style": "base", "clip": true}, "encoding": {"x": {"field": "start", "type": "quantitative"}, "x2": {"field": "end"}, "y": {"datum": 0, "axis": null}}}
]},
{"width": 203, "height": 217,
 "view": {"fill": {"gradient": "linear", "x1": 0, "y1": 0, "x2": 0, "y2": 1, "stops": [{"offset": 0, "color": "#e6e4e6"}, {"offset": 1, "color": "#f2f0f2"}]}, "stroke": null},
 "layer": [
 {"data": {"name": "R_IO"}, "mark": "line", "encoding": {"x": {"field": "t", "type": "quantitative", "scale": {"domain": [-123.3, 482.7], "nice": false, "zero": false}, "axis": {"values": [-100, 0, 100, 200, 300, 400], "title": null}}, "y": {"field": "v", "type": "quantitative", "scale": {"domain": [-12, 205], "nice": false, "zero": false}, "axis": null}}},
 {"data": {"values": [{"t": 0}]}, "mark": {"type": "rule", "style": "onset"}, "encoding": {"x": {"field": "t", "type": "quantitative"}}},
 {"data": {"values": [{"start": -100, "end": 500}]}, "mark": {"type": "rule", "style": "base", "clip": true}, "encoding": {"x": {"field": "start", "type": "quantitative"}, "x2": {"field": "end"}, "y": {"datum": 0, "axis": null}}}
]},

{"width": 30, "height": 203, "data": {"values": [{"lo": 0, "hi": 69}]}, "layer": [
 {"mark": {"type": "rule", "style": "bar"}, "encoding": {"x": {"datum": 0.477, "scale": {"domain": [0, 1]}, "axis": null}, "y": {"field": "lo", "type": "quantitative", "scale": {"domain": [-1, 202], "nice": false, "zero": false}, "axis": null}, "y2": {"field": "hi"}}},
 {"mark": {"type": "tick", "orient": "horizontal"}, "encoding": {"x": {"datum": 0.477, "axis": null}, "y": {"field": "lo", "type": "quantitative", "axis": null}}},
 {"mark": {"type": "tick", "orient": "horizontal"}, "encoding": {"x": {"datum": 0.477, "axis": null}, "y": {"field": "hi", "type": "quantitative", "axis": null}}}
]},
{"width": 212, "height": 203,
 "view": {"fill": {"gradient": "linear", "x1": 0, "y1": 0, "x2": 0, "y2": 1, "stops": [{"offset": 0, "color": "#f2f0f2"}, {"offset": 1, "color": "#ffffff"}]}, "stroke": null},
 "layer": [
 {"data": {"name": "B_TrA"}, "mark": "line", "encoding": {"x": {"field": "t", "type": "quantitative", "scale": {"domain": [-105, 527.8], "nice": false, "zero": false}, "axis": {"values": [-100, 0, 100, 200, 300, 400, 500], "offset": -1, "labels": true, "labelExpr": "format(datum.value / 1000, '~g')", "title": "Time (seconds)"}}, "y": {"field": "v", "type": "quantitative", "scale": {"domain": [-1, 202], "nice": false, "zero": false}, "axis": null}}},
 {"data": {"values": [{"t": 0}]}, "mark": {"type": "rule", "style": "onset"}, "encoding": {"x": {"field": "t", "type": "quantitative"}}},
 {"data": {"values": [{"start": -100, "end": 500}]}, "mark": {"type": "rule", "style": "base", "clip": true}, "encoding": {"x": {"field": "start", "type": "quantitative"}, "x2": {"field": "end"}, "y": {"datum": 0, "axis": null}}},
 {"data": {"values": [{"label": "TrA"}]}, "mark": "text", "encoding": {"x": {"datum": 464}, "y": {"datum": 123, "axis": null}, "text": {"field": "label"}}}
]},
{"width": 219, "height": 203,
 "view": {"fill": {"gradient": "linear", "x1": 0, "y1": 0, "x2": 0, "y2": 1, "stops": [{"offset": 0, "color": "#f2f0f2"}, {"offset": 1, "color": "#ffffff"}]}, "stroke": null},
 "layer": [
 {"data": {"name": "F_TrA"}, "mark": "line", "encoding": {"x": {"field": "t", "type": "quantitative", "scale": {"domain": [-126, 527.7], "nice": false, "zero": false}, "axis": {"values": [-100, 0, 100, 200, 300, 400, 500], "offset": -1, "title": null}}, "y": {"field": "v", "type": "quantitative", "scale": {"domain": [-1, 202], "nice": false, "zero": false}, "axis": null}}},
 {"data": {"values": [{"t": 0}]}, "mark": {"type": "rule", "style": "onset"}, "encoding": {"x": {"field": "t", "type": "quantitative"}}},
 {"data": {"values": [{"start": -100, "end": 500}]}, "mark": {"type": "rule", "style": "base", "clip": true}, "encoding": {"x": {"field": "start", "type": "quantitative"}, "x2": {"field": "end"}, "y": {"datum": 0, "axis": null}}}
]},
{"width": 219, "height": 203,
 "view": {"fill": {"gradient": "linear", "x1": 0, "y1": 0, "x2": 0, "y2": 1, "stops": [{"offset": 0, "color": "#f2f0f2"}, {"offset": 1, "color": "#ffffff"}]}, "stroke": null},
 "layer": [
 {"data": {"name": "L_TrA"}, "mark": "line", "encoding": {"x": {"field": "t", "type": "quantitative", "scale": {"domain": [-124.5, 529.2], "nice": false, "zero": false}, "axis": {"values": [-100, 0, 100, 200, 300, 400, 500], "offset": -1, "title": null}}, "y": {"field": "v", "type": "quantitative", "scale": {"domain": [-1, 202], "nice": false, "zero": false}, "axis": null}}},
 {"data": {"values": [{"t": 0}]}, "mark": {"type": "rule", "style": "onset"}, "encoding": {"x": {"field": "t", "type": "quantitative"}}},
 {"data": {"values": [{"start": -100, "end": 500}]}, "mark": {"type": "rule", "style": "base", "clip": true}, "encoding": {"x": {"field": "start", "type": "quantitative"}, "x2": {"field": "end"}, "y": {"datum": 0, "axis": null}}}
]},
{"width": 203, "height": 203,
 "view": {"fill": {"gradient": "linear", "x1": 0, "y1": 0, "x2": 0, "y2": 1, "stops": [{"offset": 0, "color": "#f2f0f2"}, {"offset": 1, "color": "#ffffff"}]}, "stroke": null},
 "layer": [
 {"data": {"name": "R_TrA"}, "mark": "line", "encoding": {"x": {"field": "t", "type": "quantitative", "scale": {"domain": [-123.3, 482.7], "nice": false, "zero": false}, "axis": {"values": [-100, 0, 100, 200, 300, 400], "offset": -1, "title": null}}, "y": {"field": "v", "type": "quantitative", "scale": {"domain": [-1, 202], "nice": false, "zero": false}, "axis": null}}},
 {"data": {"values": [{"t": 0}]}, "mark": {"type": "rule", "style": "onset"}, "encoding": {"x": {"field": "t", "type": "quantitative"}}},
 {"data": {"values": [{"start": -100, "end": 500}]}, "mark": {"type": "rule", "style": "base", "clip": true}, "encoding": {"x": {"field": "start", "type": "quantitative"}, "x2": {"field": "end"}, "y": {"datum": 0, "axis": null}}}
]}
]
}
